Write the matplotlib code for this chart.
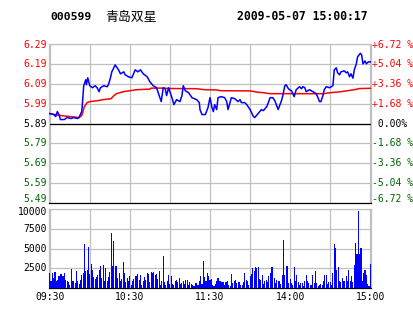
import numpy as np
import matplotlib

matplotlib.use("Agg")
import matplotlib.pyplot as plt
from matplotlib.transforms import blended_transform_factory, offset_copy

# intraday price, (minute since 09:30, price); 11:30 and 13:00 share minute 120
price_min = [0, 3, 4.5, 5.7, 7, 8, 11, 13, 16, 18, 21, 22, 24, 24.5, 25.5, 27, 27.5, 28.5, 30, 32,
             34, 35.5, 37, 38, 40.5, 43, 44, 45.5, 46.5, 48, 49, 51.5, 53, 55.5, 56.5, 59, 61.5, 64,
             66, 68, 70, 73, 75, 77.5, 80, 82.5, 83.5, 85, 86.5, 87.5, 89, 90.5, 91.5, 93, 95, 97.5,
             99, 100, 101.5, 104, 106.5, 110, 112, 112.5, 114, 116.5, 118.5, 120, 121.5, 122.5, 123.5,
             125, 126, 128.5, 131, 132.5, 133.5, 136, 138.5, 141, 142.5, 143.5, 146, 147.5, 150, 152.5,
             153.5, 156, 158.5, 160, 162.5, 165, 167, 168.5, 171, 173.5, 174.5, 176, 177, 178.5, 179.5,
             181, 183, 184.5, 187, 188.5, 189.5, 191, 192, 194.5, 197, 199.5, 200.5, 202, 203, 204.5,
             205.5, 207, 209.5, 212, 213, 214.5, 215.5, 217, 218, 220.5, 222, 223, 224.5, 225.5, 227,
             228, 229.5, 230.5, 232.5, 233.5, 234.5, 236, 237, 238.5, 240]
price = [5.94, 5.935, 5.925, 5.95, 5.935, 5.91, 5.91, 5.92, 5.915, 5.92, 5.915, 5.92, 5.95, 5.99,
         6.08, 6.11, 6.085, 6.12, 6.08, 6.07, 6.08, 6.07, 6.05, 6.07, 6.08, 6.075, 6.085, 6.12, 6.15,
         6.17, 6.185, 6.16, 6.14, 6.15, 6.135, 6.125, 6.12, 6.16, 6.15, 6.16, 6.14, 6.125, 6.10, 6.08,
         6.07, 6.02, 6.0, 6.07, 6.065, 6.03, 6.07, 6.04, 6.02, 5.985, 6.01, 6.0, 6.03, 6.08, 6.055,
         6.045, 6.02, 6.01, 5.995, 5.96, 5.935, 5.935, 5.97, 6.02, 5.97, 5.95, 5.985, 5.96, 6.02,
         6.025, 6.02, 6.0, 5.96, 6.02, 6.015, 6.0, 6.01, 5.995, 5.995, 5.985, 5.96, 5.925, 5.92, 5.94,
         5.96, 5.955, 5.975, 6.02, 6.02, 6.005, 5.96, 6.005, 6.03, 6.08, 6.085, 6.067, 6.06, 6.055,
         6.025, 6.06, 6.075, 6.065, 6.075, 6.07, 6.05, 6.06, 6.05, 6.04, 6.025, 6.0, 6.0, 6.03, 6.06,
         6.075, 6.07, 6.08, 6.16, 6.17, 6.145, 6.135, 6.15, 6.155, 6.145, 6.15, 6.125, 6.14, 6.118,
         6.16, 6.19, 6.226, 6.243, 6.235, 6.19, 6.205, 6.19, 6.20, 6.20]

avg_min = [0, 8, 15, 22, 24, 26, 28, 30, 36, 40, 46, 48, 50, 55, 60, 65, 75, 76, 85, 90, 110, 116,
           125, 128, 150, 156, 160, 165, 205, 210, 218, 228, 232, 240]
avg_price = [5.94, 5.93, 5.925, 5.92, 5.93, 5.975, 5.995, 6.0, 6.005, 6.01, 6.015, 6.03, 6.04, 6.05,
             6.055, 6.06, 6.063, 6.068, 6.068, 6.066, 6.065, 6.06, 6.059, 6.055, 6.054, 6.047, 6.045,
             6.04, 6.04, 6.045, 6.05, 6.06, 6.066, 6.067]

# volume per minute
volume = [
    1890, 920, 1890, 1260, 2020, 920, 1050, 1470, 1760, 1760, 1470, 1890, 1050, 840, 760, 340, 2390,
    920, 920, 630, 2180, 840, 550, 1050, 1680, 1890, 5590, 2100, 2310, 5170, 1760, 3020, 2310, 1340,
    1180, 1340, 1600, 2310, 2730, 1260, 2940, 840, 2520, 920, 1340, 2020, 6930, 2810, 5960, 2810,
    2810, 1260, 1890, 840, 1180, 3280, 1890, 760, 1260, 920, 1470, 420, 920, 1180, 1470, 1510, 1810,
    1050, 1680, 420, 840, 1340, 1050, 1890, 1760, 760,
    2020, 1890, 1970, 1680, 1760, 1180, 2100, 420, 840, 3990, 760, 340, 920, 1680, 500, 1550, 500,
    340, 920, 1050, 760, 1260, 500, 630, 840, 500, 1050, 1050, 420, 760, 550, 340, 210, 630, 630,
    420, 920, 1470, 500, 3360, 1340, 840, 1890, 1470, 1050, 1180, 420, 210, 500, 840, 1260, 920, 840,
    760, 760, 420, 760, 920, 420, 210, 1810, 630, 920, 1050, 630, 760, 760, 420, 420, 760, 1890,
    1050, 840, 420, 1470, 1810, 2520, 2100, 2600, 2520, 2600, 1130, 1050,
    1600, 500, 920, 1050, 760, 1470, 1890, 2600, 2690, 1260, 630, 1050, 840, 920, 500, 1680, 6090,
    1680, 2810, 2810, 630, 1180, 630, 420, 2690, 840, 1680, 710, 420, 630, 590, 290, 920, 1600, 920,
    670, 420, 420, 1600, 630, 2100, 630, 210, 420, 500, 420, 920, 1680, 1600, 550, 760, 760, 420,
    1890, 5630, 5040, 2310, 2600, 920, 760, 1260, 840, 920, 1550, 920, 2310, 920, 1550, 760, 2940,
    5750, 4280, 9790, 4280, 5040, 920, 1890, 2310, 1600, 500, 210, 3070,
]

price_ticks = [5.49, 5.59, 5.69, 5.79, 5.89, 5.99, 6.09, 6.19, 6.29]
pct_labels = ["-6.72 %", "-5.04 %", "-3.36 %", "-1.68 %", " 0.00%", "+1.68 %", "+3.36 %", "+5.04 %", "+6.72 %"]
vol_ticks = [2500, 5000, 7500, 10000]
time_ticks = [0, 60, 120, 180, 240]
time_labels = ["09:30", "10:30", "11:30", "14:00", "15:00"]

RED = "#ff0000"
GREEN = "#006400"
GRID = "#c0c0c0"
MONO = "DejaVu Sans Mono"

fig = plt.figure(figsize=(4.14, 3.14), dpi=100)
fig.patch.set_facecolor("white")
ax = fig.add_axes([49 / 414, 1 - 203 / 314, 322 / 414, 159 / 314])
axv = fig.add_axes([49 / 414, 1 - 288 / 314, 322 / 414, 79 / 314])

for a in (ax, axv):
    a.set_xlim(-0.5, 240.5)
    a.set_xticks(range(0, 241, 30))
    a.grid(True, color=GRID, linewidth=0.9, zorder=0)
    a.set_axisbelow(True)
    a.tick_params(length=0, labelsize=7, labelleft=False)
    for side in ("left", "top", "right"):
        a.spines[side].set_color(GRID)
        a.spines[side].set_linewidth(0.9)
    a.spines["bottom"].set_color("black")
    a.spines["bottom"].set_linewidth(0.9)


def side_labels(axis, values, texts, colors, x, ha):
    trans = blended_transform_factory(axis.transAxes, axis.transData)
    top, bottom = max(values), min(values)
    for v, t, c in zip(values, texts, colors):
        # keep the outermost labels inside the panel, as the original does
        shift = -1 if v == top else (4 if v == bottom else 0)
        tr = offset_copy(trans, fig=fig, y=shift, units="dots")
        axis.text(x, v, t, transform=tr, ha=ha, va="center", fontsize=7,
                  fontfamily=MONO, color=c, clip_on=False)


# price panel
ax.set_ylim(5.49, 6.29)
ax.set_yticks(price_ticks)
ax.set_xticklabels([])
ax.axhline(5.89, color="black", linewidth=0.9, zorder=2)
ax.plot(avg_min, avg_price, color=RED, linewidth=1.1, zorder=3)
ax.plot(price_min, price, color="#0000ff", linewidth=1.1, zorder=4)

price_colors = [RED if p > 5.895 else ("black" if p > 5.885 else GREEN) for p in price_ticks]
side_labels(ax, price_ticks, [f"{p:.2f}" for p in price_ticks], price_colors, -0.007, "right")
side_labels(ax, price_ticks, pct_labels, price_colors, 1.002, "left")

# volume panel
axv.bar(np.arange(len(volume)), volume, width=0.8, color="#0000ff", zorder=3)
axv.set_ylim(0, 10000)
axv.set_yticks(vol_ticks)
vol_trans = blended_transform_factory(axv.transAxes, axv.transData)
for v in vol_ticks:
    shift = -3 if v == max(vol_ticks) else 0
    tr = offset_copy(vol_trans, fig=fig, y=shift, units="dots")
    axv.text(-0.007, v, str(v), transform=tr, ha="right", va="center", fontsize=7,
             fontfamily=MONO, color="black")
axv.set_xticklabels([time_labels[time_ticks.index(t)] if t in time_ticks else "" for t in range(0, 241, 30)],
                    fontfamily=MONO)
axv.tick_params(axis="x", pad=3)

# header
fig.text(50 / 414, 1 - 17 / 314, "000599", fontsize=8.2, fontweight="bold", fontfamily=MONO, va="center")
fig.text(105 / 414, 1 - 17 / 314, "青岛双星", fontsize=9.3, fontfamily=["Noto Sans CJK SC", "DejaVu Sans"], va="center")
fig.text(237.5 / 414, 1 - 17 / 314, "2009-05-07 15:00:17", fontsize=8.3, fontweight="bold", fontfamily=MONO, va="center")

fig.savefig("out.png", dpi=100, facecolor="white")
